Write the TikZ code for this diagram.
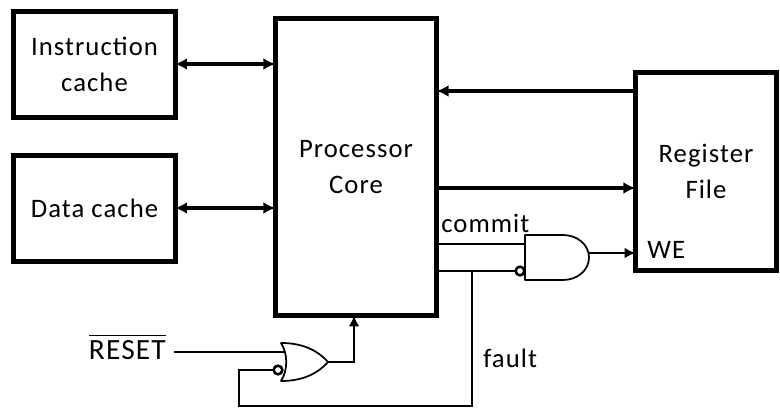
\documentclass[tikz,border=0pt]{standalone}
\usepackage{fontspec}
\setmainfont{Carlito}[LetterSpace=4]
\usetikzlibrary{arrows.meta}
\usetikzlibrary{positioning}
\tikzset{
  x=0.75pt,y=-0.75pt,
  block/.style={draw=black,line width=3.6pt,rectangle,inner sep=0pt,outer sep=0pt,align=center,font=\fontsize{20}{27}\selectfont},
  label/.style={font=\fontsize{20}{23}\selectfont,text=black,inner sep=0pt},
  bus/.style={line width=2.6pt,{Latex[length=9pt,width=9pt]}-{Latex[length=9pt,width=9pt]}},
  busone/.style={line width=2.6pt,-{Latex[length=9pt,width=9pt]}},
  wire/.style={line width=1.6pt},
  wirearrow/.style={line width=1.6pt,-{Latex[length=8pt,width=8pt]}},
  gatebox/.style={rectangle,draw=none,inner sep=0pt,outer sep=0pt},
  gateline/.style={draw=black,line width=1.3pt,line join=round},
  invbubble/.style={circle,draw=black,fill=white,line width=1.9pt,minimum size=6.5pt,inner sep=0pt,outer sep=0pt},
}
\begin{document}
\begin{tikzpicture}
\useasboundingbox (0,0) rectangle (780,417);
% blocks
\node[block,minimum width=121pt,minimum height=80pt] (icache) at (94.5,64.5) {Instruction\\cache};
\node[block,minimum width=121pt,minimum height=80pt] (dcache) at (94.5,208.5) {Data cache};
\node[block,minimum width=121pt,minimum height=223pt] (core) at (356,167) {Processor\\Core};
\node[block,minimum width=106pt,minimum height=149pt] (regfile) at (706,171.5) {Register\\File};
% gates
\node[gatebox,minimum width=48pt,minimum height=33.75pt] (andgate) at (557,257.5) {};
\node[gatebox,minimum width=35.25pt,minimum height=28.5pt] (orgate) at (304.5,362) {};
\draw[gateline] (andgate.north west) -- ++(38,0) .. controls +(14,0) and +(0,-13) .. (andgate.east) .. controls +(0,13) and +(14,0) .. ([xshift=28.5pt]andgate.south west) -- (andgate.south west) -- cycle;
\draw[gateline] (orgate.north west) .. controls +(24,0) and +(-9,-10) .. (orgate.east) .. controls +(-9,10) and +(24,0) .. (orgate.south west) .. controls +(7,-11) and +(7,11) .. (orgate.north west) -- cycle;
\node[invbubble] (andinv) at (520,271) {};
\node[invbubble] (orinv) at (278,370) {};
% labels
\node[label,anchor=west] (commit) at (441,223) {commit};
\node[label,anchor=west] (fault) at (483,358) {fault};
\node[label,anchor=west] (we) at (647,250) {WE};
\node[label,anchor=east,font=\fontsize{22}{23}\selectfont] (reset) at (166,347) {$\overline{\mbox{\rule{0pt}{17pt}RESET}}$};
% coordinates
\coordinate (tap) at (472,271);
\coordinate (corner) at (239,406);
\coordinate (resetout) at (174,352);
% buses
\draw[bus] (icache.east |- 0,64) -- (core.west |- 0,64);
\draw[bus] (dcache.east |- 0,208) -- (core.west |- 0,208);
\draw[busone] (regfile.west |- 0,91) -- (core.east |- 0,91);
\draw[busone] (core.east |- 0,188) -- (regfile.west |- 0,188);
% wires
\draw[wire] (core.east |- 0,244) -- (andgate.west |- 0,244);
\draw[wire] (core.east |- andinv) -- (andinv);
\draw[wirearrow] (andgate.east |- 0,253) -- (regfile.west |- 0,253);
\draw[wire] (resetout) -- ([xshift=2pt]orgate.west |- resetout);
\draw[wirearrow] (orgate.east) -| (core.south -| 354,0);
\draw[wire] (tap) |- (corner) |- (orinv);
\end{tikzpicture}
\end{document}
